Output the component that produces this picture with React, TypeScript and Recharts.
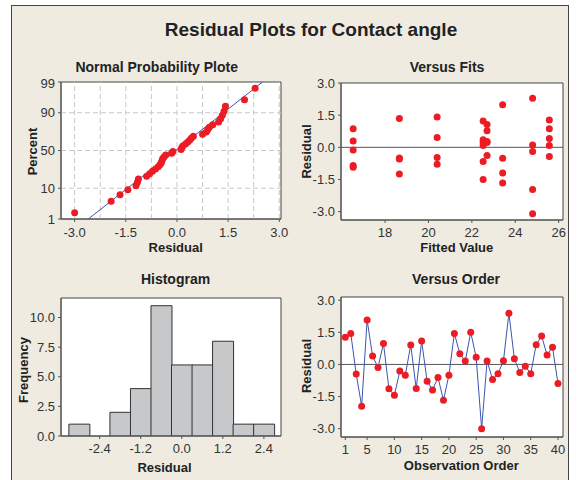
import React from "react";
import {
  ComposedChart,
  ScatterChart,
  LineChart,
  Line,
  Scatter,
  Bar,
  XAxis,
  YAxis,
  CartesianGrid,
  ReferenceLine,
  ReferenceArea,
} from "recharts";

// ---------- data ----------
const residualTicks = [-3, -1.5, 0, 1.5, 3];

// Normal probability plot
const normPercentTicks = [1, 10, 50, 90, 99];
const normGridX = [-3, -2.25, -1.5, -0.75, 0, 0.75, 1.5, 2.25, 3];
const normGridPct = [10, 50, 90];
const normResiduals = [
  -3.0, -1.93, -1.67, -1.44, -1.2, -1.16, -1.13, -0.89, -0.8, -0.72,
  -0.63, -0.55, -0.5, -0.46, -0.44, -0.42, -0.38, -0.33, -0.16, -0.12,
  0.12, 0.14, 0.17, 0.25, 0.31, 0.37, 0.42, 0.48, 0.75, 0.86,
  0.9, 0.95, 1.05, 1.22, 1.28, 1.33, 1.38, 1.42, 1.98, 2.29,
];
const normPercents = [
  1.73, 4.21, 6.68, 9.16, 11.63, 14.11, 16.58, 19.06, 21.53, 24.01,
  26.49, 28.96, 31.44, 33.91, 36.39, 38.86, 41.34, 43.81, 46.29, 48.76,
  51.24, 53.71, 56.19, 58.66, 61.14, 63.61, 66.09, 68.56, 71.04, 73.51,
  75.99, 78.47, 80.94, 83.42, 85.89, 88.37, 90.84, 93.32, 95.79, 98.27,
];
const normLineResiduals = [-2.6, 2.51];
const normLinePercents = [1, 99];

// Versus fits
const fitsFitted = [
  16.53, 16.53, 16.53, 16.53, 16.53,
  18.66, 18.66, 18.66, 18.66,
  20.4, 20.4, 20.4, 20.4,
  22.52, 22.52, 22.52, 22.52, 22.52, 22.52,
  22.7, 22.7, 22.7, 22.7, 22.7,
  23.42, 23.42, 23.42, 23.42,
  24.8, 24.8, 24.8, 24.8, 24.8,
  25.57, 25.57, 25.57, 25.57, 25.57,
];
const fitsResiduals = [
  0.87, 0.29, -0.13, -0.85, -0.93,
  1.34, -0.55, -0.5, -1.25,
  1.41, 0.46, -0.47, -0.79,
  1.23, 0.35, 0.22, 0.08, -0.66, -1.5,
  1.07, 0.77, 0.27, 0.22, -0.38,
  1.99, -0.51, -1.2, -1.67,
  2.29, 0.11, -0.2, -1.97, -3.1,
  1.28, 0.87, 0.41, 0.09, -0.43,
];

// Histogram
const histCenters = [-3.0, -2.4, -1.8, -1.2, -0.6, 0, 0.6, 1.2, 1.8, 2.4];
const histCounts = [1, 0, 2, 4, 11, 6, 6, 8, 1, 1];
const histXTicks = [-2.4, -1.2, 0, 1.2, 2.4];
const histYTicks = [0, 2.5, 5, 7.5, 10];

// Versus order
const orderResiduals = [
  1.27, 1.45, -0.45, -1.95, 2.08, 0.39, -0.14, 0.98, -1.14, -1.44,
  -0.31, -0.5, 0.91, -1.13, 1.09, -0.78, -1.19, -0.61, -1.67, -0.5,
  1.45, 0.5, 0.16, 1.5, 0.33, -3.0, 0.16, -0.7, -0.44, 0.17,
  2.39, 0.27, -0.38, -0.08, -0.44, 0.92, 1.33, 0.44, 0.8, -0.89,
];
const orderXTicks = [1, 5, 10, 15, 20, 25, 30, 35, 40];

// ---------- helpers ----------
const FONT = "'Liberation Sans', Arial, sans-serif";
const BG = "#EFEBE0";
const RED = "#EC1C24";
const BLUE = "#3A56B0";
const AXIS = "#555";
const FRAME = "#444";
const TICK = { fill: "#333", fontSize: 13, fontFamily: FONT };

// inverse standard normal CDF (probability axis transform)
function probit(p: number): number {
  const a = [-39.69683028665376, 220.9460984245205, -275.9285104469687, 138.357751867269, -30.66479806614716, 2.506628277459239];
  const b = [-54.47609879822406, 161.5858368580409, -155.6989798598866, 66.80131188771972, -13.28068155288572];
  const c = [-0.007784894002430293, -0.3223964580411365, -2.400758277161838, -2.549732539343734, 4.374664141464968, 2.938163982698783];
  const d = [0.007784695709041462, 0.3224671290700398, 2.445134137142996, 3.754408661907416];
  const pl = 0.02425;
  if (p < pl) {
    const q = Math.sqrt(-2 * Math.log(p));
    return (((((c[0] * q + c[1]) * q + c[2]) * q + c[3]) * q + c[4]) * q + c[5]) /
      ((((d[0] * q + d[1]) * q + d[2]) * q + d[3]) * q + 1);
  }
  if (p <= 1 - pl) {
    const q = p - 0.5;
    const r = q * q;
    return ((((((a[0] * r + a[1]) * r + a[2]) * r + a[3]) * r + a[4]) * r + a[5]) * q) /
      (((((b[0] * r + b[1]) * r + b[2]) * r + b[3]) * r + b[4]) * r + 1);
  }
  const q = Math.sqrt(-2 * Math.log(1 - p));
  return -(((((c[0] * q + c[1]) * q + c[2]) * q + c[3]) * q + c[4]) * q + c[5]) /
    ((((d[0] * q + d[1]) * q + d[2]) * q + d[3]) * q + 1);
}
const pz = (pct: number) => probit(pct / 100);
const fmt1 = (v: number) => v.toFixed(1);

const RedDot = (props: any) =>
  props.cx == null ? <g /> : <circle cx={props.cx} cy={props.cy} r={3.5} fill={RED} />;

// ---------- panels ----------
const normPoints = normResiduals.map((x, i) => ({ x, y: pz(normPercents[i]) }));
const normLine = normLineResiduals.map((x, i) => ({ x, y: pz(normLinePercents[i]) }));
const NORM_X: [number, number] = [-3.4, 3.05];
const NORM_Y: [number, number] = [pz(1), pz(99)];

function NormalPanel() {
  return (
    <ComposedChart width={280} height={180} margin={{ top: 7, right: 10, left: 0, bottom: 0 }}>
      <CartesianGrid fill="#fff" stroke="none" horizontal={false} vertical={false} />
      <XAxis type="number" dataKey="x" domain={NORM_X} ticks={residualTicks} tickFormatter={fmt1}
        height={36} tickSize={3} tickMargin={6} stroke={AXIS} tick={TICK} allowDataOverflow />
      <YAxis type="number" dataKey="y" domain={NORM_Y} ticks={normPercentTicks.map(pz)}
        tickFormatter={(_v: number, i: number) => String(normPercentTicks[i])}
        width={50} tickSize={3} tickMargin={3} stroke={AXIS} tick={TICK} allowDataOverflow />
      {normGridX.map((v) => (
        <ReferenceLine key={"gx" + v} x={v} stroke="#C8C8C8" strokeDasharray="5 3" />
      ))}
      {normGridPct.map((v) => (
        <ReferenceLine key={"gy" + v} y={pz(v)} stroke="#C8C8C8" strokeDasharray="5 3" />
      ))}
      <ReferenceArea x1={NORM_X[0]} x2={NORM_X[1]} y1={NORM_Y[0]} y2={NORM_Y[1]} fill="none" stroke={FRAME} />
      <Line data={normLine} dataKey="y" stroke={BLUE} strokeWidth={1} dot={false} isAnimationActive={false} />
      <Scatter data={normPoints} dataKey="y" shape={RedDot} isAnimationActive={false} />
    </ComposedChart>
  );
}

const fitsPoints = fitsFitted.map((x, i) => ({ x, y: fitsResiduals[i] }));
const FITS_X: [number, number] = [15.97, 26.2];
const FITS_Y: [number, number] = [-3.39, 3.0];

function FitsPanel() {
  return (
    <ScatterChart width={277} height={180} margin={{ top: 8, right: 10, left: 0, bottom: 0 }}>
      <CartesianGrid fill="#fff" stroke="none" horizontal={false} vertical={false} />
      <XAxis type="number" dataKey="x" domain={FITS_X} ticks={[18, 20, 22, 24, 26]}
        height={35} tickSize={3} tickMargin={5} stroke={AXIS} tick={TICK} allowDataOverflow />
      <YAxis type="number" dataKey="y" domain={FITS_Y} ticks={residualTicks} tickFormatter={fmt1}
        width={45} tickSize={3} tickMargin={3} stroke={AXIS} tick={TICK} allowDataOverflow />
      <ReferenceArea x1={FITS_X[0]} x2={FITS_X[1]} y1={FITS_Y[0]} y2={FITS_Y[1]} fill="none" stroke={FRAME} />
      <ReferenceLine y={0} stroke="#555" />
      <Scatter data={fitsPoints} shape={RedDot} isAnimationActive={false} />
    </ScatterChart>
  );
}

const histData = histCenters.map((x, i) => ({ x, count: histCounts[i] }));
const HIST_X: [number, number] = [-3.53, 2.9];
const HIST_Y: [number, number] = [0, 11.65];

function HistPanel() {
  return (
    <ComposedChart width={280} height={180} data={histData} barCategoryGap={0} barGap={0}
      margin={{ top: 8, right: 10, left: 0, bottom: 0 }}>
      <CartesianGrid fill="#fff" stroke="none" horizontal={false} vertical={false} />
      <XAxis type="number" dataKey="x" domain={HIST_X} ticks={histXTicks} tickFormatter={fmt1}
        height={34} tickSize={3} tickMargin={5} stroke={AXIS} tick={TICK} allowDataOverflow />
      <YAxis type="number" domain={HIST_Y} ticks={histYTicks} tickFormatter={fmt1}
        width={50} tickSize={3} tickMargin={3} stroke={AXIS} tick={TICK} allowDataOverflow />
      <ReferenceArea x1={HIST_X[0]} x2={HIST_X[1]} y1={HIST_Y[0]} y2={HIST_Y[1]} fill="none" stroke={FRAME} />
      <Bar dataKey="count" fill="#C7C8CA" stroke="#333" strokeWidth={1} isAnimationActive={false} />
    </ComposedChart>
  );
}

const orderData = orderResiduals.map((y, i) => ({ x: i + 1, y }));
const ORDER_X: [number, number] = [0.21, 40.92];
const ORDER_Y: [number, number] = [-3.39, 3.15];

function OrderPanel() {
  return (
    <LineChart width={277} height={180} data={orderData} margin={{ top: 7, right: 10, left: 0, bottom: 0 }}>
      <CartesianGrid fill="#fff" stroke="none" horizontal={false} vertical={false} />
      <XAxis type="number" dataKey="x" domain={ORDER_X} ticks={orderXTicks}
        height={33} tickSize={3} tickMargin={5} stroke={AXIS} tick={TICK} allowDataOverflow />
      <YAxis type="number" domain={ORDER_Y} ticks={residualTicks} tickFormatter={fmt1}
        width={45} tickSize={3} tickMargin={3} stroke={AXIS} tick={TICK} allowDataOverflow />
      <ReferenceArea x1={ORDER_X[0]} x2={ORDER_X[1]} y1={ORDER_Y[0]} y2={ORDER_Y[1]} fill="none" stroke={FRAME} />
      <ReferenceLine y={0} stroke="#555" />
      <Line dataKey="y" stroke={BLUE} strokeWidth={1}
        dot={{ r: 3.5, fill: RED, stroke: RED, strokeWidth: 0 }} isAnimationActive={false} />
    </LineChart>
  );
}

function VLabel({ x, y, text }: { x: number; y: number; text: string }) {
  return (
    <text x={x} y={y} transform={`rotate(-90 ${x} ${y})`} textAnchor="middle" dy="0.36em"
      fontSize={13} fontWeight="bold" fill="#222">{text}</text>
  );
}
function HLabel({ x, y, text, size = 13 }: { x: number; y: number; text: string; size?: number }) {
  return (
    <text x={x} y={y} textAnchor="middle" dy="0.36em" fontSize={size} fontWeight="bold" fill="#222">{text}</text>
  );
}

export default function App() {
  return (
    <div style={{ position: "absolute", left: 0, top: 0, width: 579, height: 480, overflow: "hidden", background: "#fff", fontFamily: FONT }}>
      <div style={{ position: "absolute", left: 11, top: 5, width: 558, height: 500, background: BG, border: "1px solid #444", boxSizing: "border-box" }} />
      <div style={{ position: "absolute", left: 11, top: 75 }}><NormalPanel /></div>
      <div style={{ position: "absolute", left: 296, top: 75 }}><FitsPanel /></div>
      <div style={{ position: "absolute", left: 11, top: 290 }}><HistPanel /></div>
      <div style={{ position: "absolute", left: 296, top: 290 }}><OrderPanel /></div>
      <svg width={579} height={480} style={{ position: "absolute", left: 0, top: 0, pointerEvents: "none", fontFamily: FONT }}>
        <HLabel x={311} y={29.5} text="Residual Plots for Contact angle" size={19} />
        <HLabel x={156.7} y={67} text="Normal Probability Plote" size={14} />
        <HLabel x={447} y={67} text="Versus Fits" size={14} />
        <HLabel x={175.5} y={278.5} text="Histogram" size={14} />
        <HLabel x={456} y={278.5} text="Versus Order" size={14} />
        <VLabel x={32.5} y={151.5} text="Percent" />
        <VLabel x={306} y={151.5} text="Residual" />
        <VLabel x={23.5} y={370} text="Frequency" />
        <VLabel x={306} y={366} text="Residual" />
        <HLabel x={175.7} y={247} text="Residual" />
        <HLabel x={456.7} y={247} text="Fitted Value" />
        <HLabel x={164.5} y={467} text="Residual" />
        <HLabel x={461.3} y={465} text="Observation Order" />
      </svg>
    </div>
  );
}
